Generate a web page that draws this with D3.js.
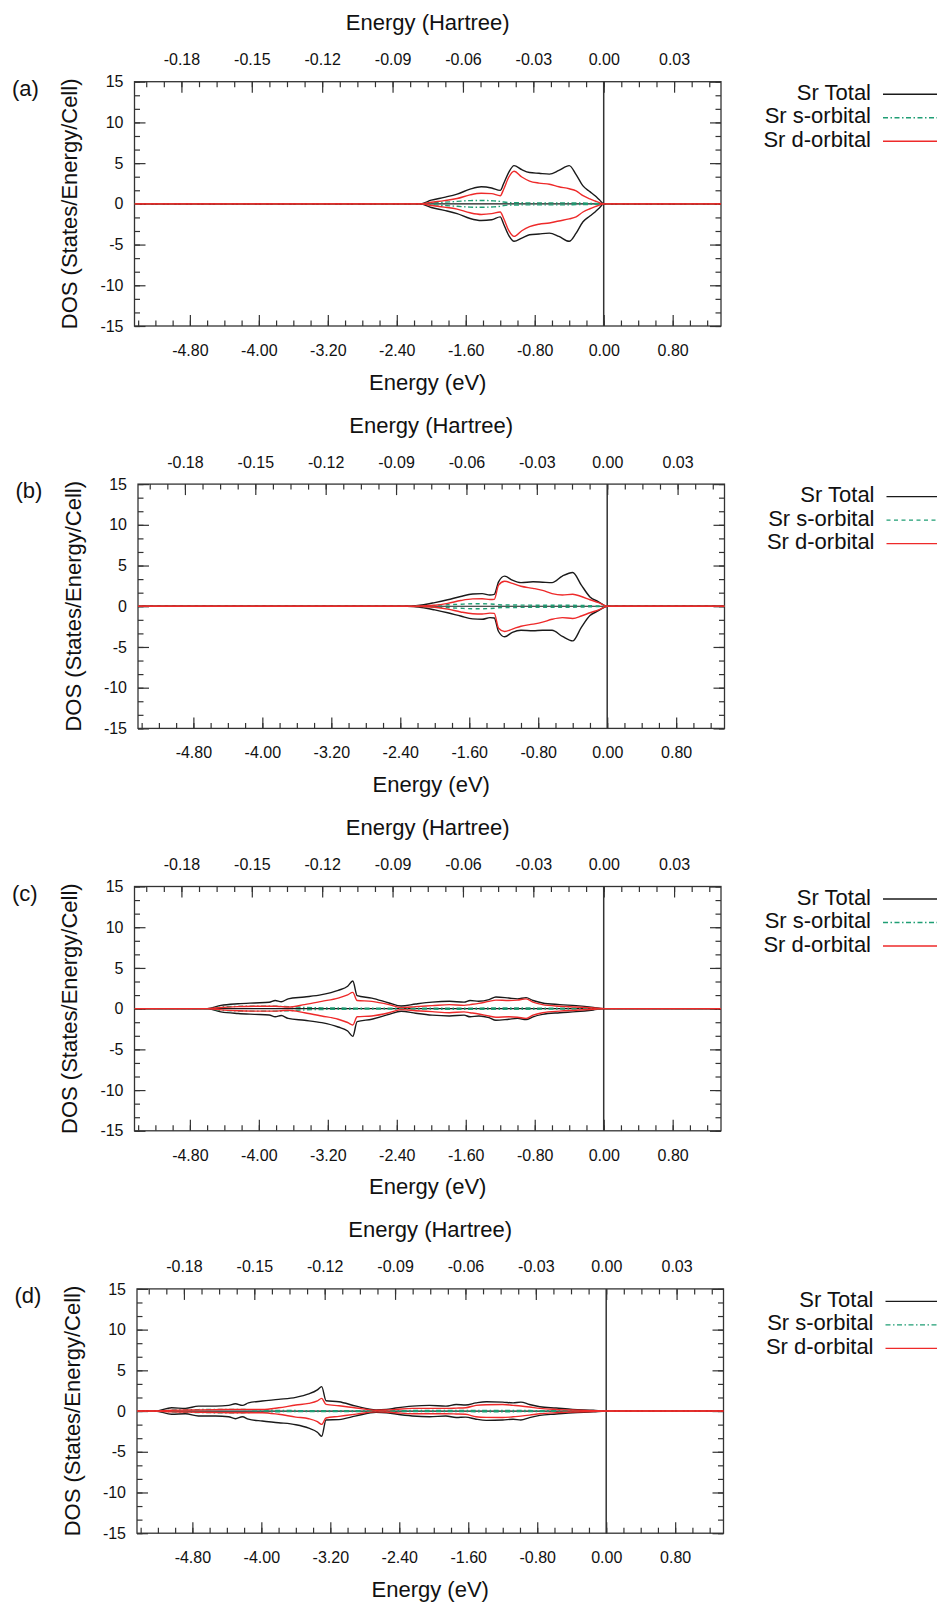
<!DOCTYPE html>
<html>
<head>
<meta charset="utf-8">
<script src="https://cdn.jsdelivr.net/npm/d3@7"></script>
<style>
  body { margin: 0; background: #fff; }
  svg text { font-family: "Liberation Sans", Arial, Helvetica, sans-serif; fill: #111; }
</style>
</head>
<body>
<svg id="chart" width="937" height="1603"></svg>
<script>
const HARTREE_EV = 27.2114;

const panelLabels = ["(a)", "(b)", "(c)", "(d)"];
const seriesNames = ["Sr Total", "Sr s-orbital", "Sr d-orbital"];
const sOrbitalStyle = ["dashdot", "dashed", "dashdot", "dashdot"];

const eVTicks = [-4.8, -4.0, -3.2, -2.4, -1.6, -0.8, 0, 0.8];
const hartreeTicks = [-0.18, -0.15, -0.12, -0.09, -0.06, -0.03, 0, 0.03];
const dosTicks = [-15, -10, -5, 0, 5, 10, 15];

// panel (a)
const energyA = [-5.44, -2.13, -2.0, -1.85, -1.7, -1.55, -1.42, -1.3, -1.2, -1.16, -1.1, -1.04, -0.95, -0.86, -0.75, -0.63, -0.52, -0.4, -0.32, -0.24, -0.16, -0.1, -0.05, 0, 1.36];
const totalUpA = [0, 0, 0.45, 0.8, 1.2, 1.8, 2.1, 1.95, 1.65, 2.5, 3.9, 4.7, 4.2, 3.85, 3.75, 3.65, 4.1, 4.7, 3.6, 2.2, 1.5, 1.0, 0.5, 0, 0];
const totalDnA = [0, 0, -0.45, -0.8, -1.2, -1.8, -2.05, -1.95, -1.6, -2.5, -3.9, -4.6, -4.2, -3.8, -3.7, -3.6, -4.0, -4.6, -3.6, -2.2, -1.5, -1.0, -0.5, 0, 0];
const sUpA = [0, 0, 0.1, 0.2, 0.3, 0.4, 0.42, 0.38, 0.3, 0.22, 0.15, 0.14, 0.13, 0.12, 0.12, 0.12, 0.12, 0.12, 0.1, 0.1, 0.07, 0.05, 0.03, 0, 0];
const sDnA = [0, 0, -0.1, -0.2, -0.3, -0.4, -0.42, -0.38, -0.3, -0.22, -0.15, -0.14, -0.13, -0.12, -0.12, -0.12, -0.12, -0.12, -0.1, -0.1, -0.07, -0.05, -0.03, 0, 0];
const dUpA = [0, 0, 0.2, 0.4, 0.65, 1.1, 1.3, 1.25, 1.0, 1.8, 3.3, 4.0, 3.3, 2.8, 2.55, 2.4, 2.1, 1.85, 1.6, 1.0, 0.6, 0.35, 0.15, 0, 0];
const dDnA = [0, 0, -0.2, -0.4, -0.65, -1.1, -1.3, -1.2, -1.0, -1.8, -3.3, -4.0, -3.3, -2.8, -2.5, -2.35, -2.1, -1.85, -1.6, -1.0, -0.6, -0.35, -0.15, 0, 0];

// panel (b)
const energyB = [-5.44, -2.32, -2.15, -2.0, -1.85, -1.7, -1.56, -1.45, -1.36, -1.31, -1.26, -1.19, -1.1, -1.0, -0.86, -0.75, -0.64, -0.52, -0.4, -0.3, -0.2, -0.1, 0, 1.36];
const totalUpB = [0, 0, 0.15, 0.45, 0.8, 1.2, 1.5, 1.55, 1.38, 1.45, 3.0, 3.7, 3.2, 2.9, 3.0, 2.95, 2.9, 3.7, 4.15, 2.6, 1.15, 0.55, 0, 0];
const totalDnB = [0, 0, -0.15, -0.45, -0.8, -1.2, -1.55, -1.6, -1.4, -1.45, -3.1, -3.75, -3.2, -2.95, -3.0, -2.95, -2.95, -3.7, -4.25, -2.6, -1.15, -0.55, 0, 0];
const sUpB = [0, 0, 0.05, 0.1, 0.18, 0.25, 0.3, 0.3, 0.28, 0.25, 0.18, 0.15, 0.15, 0.14, 0.13, 0.13, 0.12, 0.12, 0.12, 0.1, 0.07, 0.04, 0, 0];
const sDnB = [0, 0, -0.05, -0.1, -0.18, -0.25, -0.3, -0.3, -0.28, -0.25, -0.18, -0.15, -0.15, -0.14, -0.13, -0.13, -0.12, -0.12, -0.12, -0.1, -0.07, -0.04, 0, 0];
const dUpB = [0, 0, 0.05, 0.12, 0.35, 0.7, 0.9, 0.92, 0.82, 0.85, 2.6, 3.07, 2.8, 2.45, 2.2, 1.95, 1.55, 1.38, 1.48, 1.2, 0.8, 0.45, 0, 0];
const dDnB = [0, 0, -0.05, -0.12, -0.35, -0.7, -0.92, -0.95, -0.85, -0.88, -2.7, -3.1, -2.8, -2.45, -2.2, -1.95, -1.6, -1.4, -1.5, -1.2, -0.8, -0.45, 0, 0];

// panel (c)
const energyC = [-5.44, -4.6, -4.44, -4.24, -4.05, -3.88, -3.81, -3.74, -3.66, -3.47, -3.27, -3.08, -2.97, -2.91, -2.86, -2.69, -2.49, -2.35, -2.18, -1.99, -1.79, -1.62, -1.55, -1.45, -1.33, -1.25, -1.1, -1.0, -0.9, -0.82, -0.71, -0.51, -0.32, -0.12, 0, 1.36];
const totalUpC = [0, 0, 0.4, 0.6, 0.7, 0.78, 1.0, 0.85, 1.2, 1.43, 1.72, 2.25, 2.75, 3.4, 1.6, 1.3, 0.7, 0.32, 0.57, 0.8, 0.9, 0.8, 1.0, 0.9, 1.1, 1.43, 1.3, 1.2, 1.35, 1.0, 0.7, 0.5, 0.37, 0.16, 0, 0];
const totalDnC = [0, 0, -0.4, -0.6, -0.7, -0.78, -1.0, -0.85, -1.2, -1.43, -1.72, -2.25, -2.75, -3.4, -1.6, -1.3, -0.7, -0.32, -0.57, -0.8, -0.9, -0.8, -1.0, -0.9, -1.1, -1.43, -1.3, -1.2, -1.35, -1.0, -0.7, -0.5, -0.37, -0.16, 0, 0];
const sUpC = [0, 0, 0.2, 0.28, 0.3, 0.3, 0.3, 0.28, 0.25, 0.15, 0.1, 0.08, 0.07, 0.07, 0.05, 0.05, 0.05, 0.04, 0.05, 0.06, 0.07, 0.07, 0.07, 0.07, 0.08, 0.08, 0.08, 0.08, 0.08, 0.07, 0.06, 0.05, 0.04, 0.02, 0, 0];
const sDnC = [0, 0, -0.2, -0.28, -0.3, -0.3, -0.3, -0.28, -0.25, -0.15, -0.1, -0.08, -0.07, -0.07, -0.05, -0.05, -0.05, -0.04, -0.05, -0.06, -0.07, -0.07, -0.07, -0.07, -0.08, -0.08, -0.08, -0.08, -0.08, -0.07, -0.06, -0.05, -0.04, -0.02, 0, 0];
const dUpC = [0, 0, 0.15, 0.25, 0.3, 0.3, 0.3, 0.25, 0.2, 0.5, 0.9, 1.3, 1.7, 2.0, 1.0, 0.9, 0.5, 0.12, 0.25, 0.37, 0.5, 0.4, 0.5, 0.65, 0.9, 1.05, 1.0, 1.05, 1.2, 0.8, 0.5, 0.3, 0.2, 0.08, 0, 0];
const dDnC = [0, 0, -0.15, -0.25, -0.3, -0.3, -0.3, -0.25, -0.2, -0.5, -0.9, -1.3, -1.7, -2.0, -1.0, -0.9, -0.5, -0.12, -0.25, -0.37, -0.5, -0.4, -0.5, -0.65, -0.9, -1.05, -1.0, -1.05, -1.2, -0.8, -0.5, -0.3, -0.2, -0.08, 0, 0];

// panel (d)
const energyD = [-5.44, -5.23, -5.04, -4.88, -4.73, -4.53, -4.38, -4.3, -4.22, -4.15, -3.99, -3.8, -3.6, -3.45, -3.35, -3.3, -3.25, -3.1, -2.9, -2.67, -2.55, -2.44, -2.25, -2.05, -1.86, -1.74, -1.63, -1.51, -1.39, -1.2, -1.08, -0.99, -0.89, -0.77, -0.58, -0.39, -0.15, 0, 1.36];
const totalUpD = [0, 0, 0.4, 0.33, 0.6, 0.6, 0.7, 0.9, 0.7, 1.0, 1.23, 1.43, 1.68, 2.1, 2.6, 3.0, 1.27, 1.15, 0.6, 0.15, 0.2, 0.37, 0.6, 0.7, 0.6, 0.8, 0.74, 1.0, 1.15, 1.1, 1.0, 1.1, 0.8, 0.53, 0.37, 0.2, 0.1, 0, 0];
const totalDnD = [0, 0, -0.4, -0.33, -0.6, -0.6, -0.7, -0.94, -0.7, -1.0, -1.23, -1.43, -1.68, -2.1, -2.6, -3.1, -1.1, -1.05, -0.6, -0.15, -0.2, -0.37, -0.6, -0.7, -0.6, -0.8, -0.74, -1.0, -1.15, -1.1, -1.0, -1.1, -0.8, -0.53, -0.37, -0.2, -0.1, 0, 0];
const sUpD = [0, 0, 0.1, 0.15, 0.18, 0.2, 0.2, 0.2, 0.2, 0.18, 0.12, 0.08, 0.06, 0.05, 0.05, 0.05, 0.05, 0.05, 0.05, 0.04, 0.04, 0.05, 0.06, 0.07, 0.07, 0.07, 0.07, 0.08, 0.08, 0.08, 0.08, 0.07, 0.06, 0.05, 0.04, 0.03, 0.02, 0, 0];
const sDnD = [0, 0, -0.1, -0.15, -0.18, -0.2, -0.2, -0.2, -0.2, -0.18, -0.12, -0.08, -0.06, -0.05, -0.05, -0.05, -0.05, -0.05, -0.05, -0.04, -0.04, -0.05, -0.06, -0.07, -0.07, -0.07, -0.07, -0.08, -0.08, -0.08, -0.08, -0.07, -0.06, -0.05, -0.04, -0.03, -0.02, 0, 0];
const dUpD = [0, 0, 0.1, 0.12, 0.15, 0.18, 0.2, 0.2, 0.2, 0.2, 0.2, 0.4, 0.74, 0.94, 1.25, 1.56, 0.82, 0.65, 0.38, 0.1, 0.12, 0.2, 0.33, 0.33, 0.33, 0.36, 0.4, 0.7, 0.78, 0.8, 0.7, 0.62, 0.5, 0.33, 0.2, 0.12, 0.05, 0, 0];
const dDnD = [0, 0, -0.1, -0.12, -0.15, -0.18, -0.2, -0.2, -0.2, -0.2, -0.2, -0.4, -0.74, -0.94, -1.3, -1.64, -0.85, -0.65, -0.38, -0.1, -0.12, -0.2, -0.33, -0.33, -0.33, -0.36, -0.4, -0.7, -0.78, -0.8, -0.7, -0.62, -0.5, -0.33, -0.2, -0.12, -0.05, 0, 0];

const panels = [
  { energy: energyA, total: [totalUpA, totalDnA], s: [sUpA, sDnA], d: [dUpA, dDnA] },
  { energy: energyB, total: [totalUpB, totalDnB], s: [sUpB, sDnB], d: [dUpB, dDnB] },
  { energy: energyC, total: [totalUpC, totalDnC], s: [sUpC, sDnC], d: [dUpC, dDnC] },
  { energy: energyD, total: [totalUpD, totalDnD], s: [sUpD, sDnD], d: [dUpD, dDnD] },
];

const colors = { total: "#1a1a1a", s: "#1f9e74", d: "#ee2a2a", axis: "#333" };
const dashes = { solid: null, dashdot: "5,2.5,1.5,2.5", dashed: "4,3.5" };

const svg = d3.select("#chart");

const plotLeft = 134.5;
const plotRight = 721;
const plotHeight = 244.3;
const firstTop = 81.7;
const panelStep = 402.4;
const panelShift = [0, 3.5, 0, 2.5];

const x = d3.scaleLinear().domain([-0.2 * HARTREE_EV, 0.05 * HARTREE_EV]).range([plotLeft, plotRight]);
const xH = d3.scaleLinear().domain([-0.2, 0.05]).range([plotLeft, plotRight]);

const eVMinor = d3.range(-27, 7).map((k) => +(k * 0.2).toFixed(2));
const hartreeMinor = d3.range(-26, 7).map((k) => +(k * 0.0075).toFixed(4));
const dosMinor = d3.range(0, 19).map((k) => -15 + (k * 5) / 3);

const styleAxis = (g) => {
  g.select(".domain").remove();
  g.attr("font-size", 16);
  g.selectAll(".tick line").attr("stroke", colors.axis).attr("stroke-width", 1.2);
};

panels.forEach((p, i) => {
  const top = firstTop + i * panelStep;
  const bottom = top + plotHeight;
  const g = svg.append("g").attr("transform", `translate(${panelShift[i]},0)`);

  const y = d3.scaleLinear().domain([-15, 15]).range([bottom, top]);

  // ticks (minor first, then major with labels)
  g.append("g").attr("transform", `translate(0,${bottom})`)
    .call(d3.axisBottom(x).tickValues(eVMinor).tickSize(-5.5).tickFormat(""))
    .call(styleAxis);
  g.append("g").attr("transform", `translate(0,${bottom})`)
    .call(d3.axisBottom(x).tickValues(eVTicks).tickSize(-11).tickPadding(18.6).tickFormat((d) => d.toFixed(2)))
    .call(styleAxis);

  g.append("g").attr("transform", `translate(0,${top})`)
    .call(d3.axisTop(xH).tickValues(hartreeMinor).tickSize(-5.5).tickFormat(""))
    .call(styleAxis);
  g.append("g").attr("transform", `translate(0,${top})`)
    .call(d3.axisTop(xH).tickValues(hartreeTicks).tickSize(-11).tickPadding(16.5).tickFormat((d) => d.toFixed(2)))
    .call(styleAxis);

  g.append("g").attr("transform", `translate(${plotLeft},0)`)
    .call(d3.axisLeft(y).tickValues(dosMinor).tickSize(-5.5).tickFormat(""))
    .call(styleAxis);
  g.append("g").attr("transform", `translate(${plotLeft},0)`)
    .call(d3.axisLeft(y).tickValues(dosTicks).tickSize(-11).tickPadding(11).tickFormat((d) => String(d)))
    .call(styleAxis);

  g.append("g").attr("transform", `translate(${plotRight},0)`)
    .call(d3.axisRight(y).tickValues(dosMinor).tickSize(-5.5).tickFormat(""))
    .call(styleAxis);
  g.append("g").attr("transform", `translate(${plotRight},0)`)
    .call(d3.axisRight(y).tickValues(dosTicks).tickSize(-11).tickFormat(""))
    .call(styleAxis);

  g.append("rect")
    .attr("x", plotLeft)
    .attr("y", top)
    .attr("width", plotRight - plotLeft)
    .attr("height", plotHeight)
    .attr("fill", "none")
    .attr("stroke", colors.axis)
    .attr("stroke-width", 1.3);

  // Fermi level + zero reference
  g.append("line")
    .attr("x1", x(0)).attr("x2", x(0))
    .attr("y1", top).attr("y2", bottom)
    .attr("stroke", colors.axis)
    .attr("stroke-width", 1.5);

  g.append("line")
    .attr("x1", plotLeft).attr("x2", plotRight)
    .attr("y1", y(0)).attr("y2", y(0))
    .attr("stroke", colors.total)
    .attr("stroke-width", 1.2);

  const line = d3
    .line()
    .x((d, j) => x(p.energy[j]))
    .y((d) => y(d))
    .curve(d3.curveMonotoneX);

  const drawSeries = (pair, color, dash) => {
    pair.forEach((values) => {
      g.append("path")
        .datum(values)
        .attr("fill", "none")
        .attr("stroke", color)
        .attr("stroke-width", 1.4)
        .attr("stroke-dasharray", dash)
        .attr("d", line);
    });
  };

  drawSeries(p.total, colors.total, dashes.solid);
  drawSeries(p.s, colors.s, dashes[sOrbitalStyle[i]]);
  drawSeries(p.d, colors.d, dashes.solid);

  // titles
  const midX = (plotLeft + plotRight) / 2;
  g.append("text")
    .attr("x", midX)
    .attr("y", top - 51.6)
    .attr("text-anchor", "middle")
    .attr("font-size", 22)
    .text("Energy (Hartree)");

  g.append("text")
    .attr("x", midX)
    .attr("y", bottom + 63.5)
    .attr("text-anchor", "middle")
    .attr("font-size", 22)
    .text("Energy (eV)");

  g.append("text")
    .attr("transform", `translate(77,${(top + bottom) / 2}) rotate(-90)`)
    .attr("text-anchor", "middle")
    .attr("font-size", 22)
    .text("DOS (States/Energy/Cell)");

  g.append("text")
    .attr("x", 12)
    .attr("y", top + 14)
    .attr("font-size", 22)
    .text(panelLabels[i]);

  // legend
  const legendStyles = [
    { color: colors.total, dash: dashes.solid },
    { color: colors.s, dash: dashes[sOrbitalStyle[i]] },
    { color: colors.d, dash: dashes.solid },
  ];
  seriesNames.forEach((name, k) => {
    const baseline = top + 18 + k * 23.5;
    g.append("text")
      .attr("x", 871)
      .attr("y", baseline)
      .attr("text-anchor", "end")
      .attr("font-size", 22)
      .text(name);
    g.append("line")
      .attr("x1", 883)
      .attr("x2", 945)
      .attr("y1", baseline - 5.5)
      .attr("y2", baseline - 5.5)
      .attr("stroke", legendStyles[k].color)
      .attr("stroke-width", 1.4)
      .attr("stroke-dasharray", legendStyles[k].dash);
  });
});
</script>
</body>
</html>
